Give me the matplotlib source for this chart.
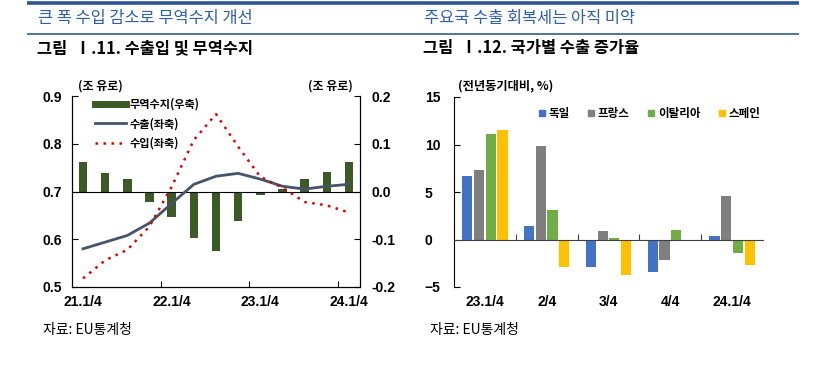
import matplotlib
matplotlib.use('Agg')
import matplotlib.pyplot as plt
import numpy as np
from matplotlib.lines import Line2D

#### Data ####################################################################
quarters = ['21.1/4', '', '', '', '22.1/4', '', '', '', '23.1/4', '', '', '', '24.1/4']
balance = [0.062, 0.039, 0.026, -0.023, -0.054, -0.097, -0.125, -0.062, -0.007, 0.005, 0.027, 0.041, 0.062]
exports = [0.580, 0.594, 0.608, 0.634, 0.675, 0.715, 0.732, 0.738, 0.726, 0.711, 0.705, 0.711, 0.715]
imports = [0.518, 0.556, 0.578, 0.627, 0.710, 0.808, 0.862, 0.794, 0.731, 0.708, 0.678, 0.671, 0.656]

groups = ['23.1/4', '2/4', '3/4', '4/4', '24.1/4']
countries = ['독일', '프랑스', '이탈리아', '스페인']
germany = [6.65, 1.37, -2.85, -3.38, 0.39]
france = [7.29, 9.82, 0.85, -2.11, 4.54]
italy = [11.09, 3.10, 0.20, 1.02, -1.44]
spain = [11.50, -2.85, -3.77, -0.18, -2.71]

#### Style ###################################################################
KR = ['Noto Sans CJK KR', 'DejaVu Sans']
NUM = ['Liberation Sans', 'Noto Sans CJK KR']
plt.rcParams['font.family'] = NUM
W, H = 818, 368
fig = plt.figure(figsize=(W / 100, H / 100), dpi=100)

def fx(px):
    return px / W

def fy(py):
    return 1 - py / H

# header lines / texts (pixel coords)
hdr = fig.add_axes([0, 0, 1, 1], facecolor='none')
hdr.set_xlim(0, W); hdr.set_ylim(H, 0); hdr.axis('off')
hdr.plot([27, 799], [3, 3], color='#2F5597', lw=2.6, solid_capstyle='butt')
hdr.plot([27, 799], [33.5, 33.5], color='#4F72B0', lw=1.4, solid_capstyle='butt')
hdr.text(38, 19, '큰 폭 수입 감소로 무역수지 개선', family=KR, fontsize=11.8, color='#2F5FA8', va='center')
hdr.text(424, 19, '주요국 수출 회복세는 아직 미약', family=KR, fontsize=11.8, color='#2F5FA8', va='center')
hdr.text(37, 48, '그림  Ⅰ.11. 수출입 및 무역수지', family=KR, fontsize=11.8, color='black', va='center', weight='bold')
hdr.text(423, 48, '그림  Ⅰ.12. 국가별 수출 증가율', family=KR, fontsize=11.8, color='black', va='center', weight='bold')
hdr.text(100, 86, '(조 유로)', family=KR, fontsize=8.6, weight='bold', ha='center', va='center')
hdr.text(330, 86, '(조 유로)', family=KR, fontsize=8.6, weight='bold', ha='center', va='center')
hdr.text(458, 86, '(전년동기대비, %)', family=KR, fontsize=8.8, weight='bold', ha='left', va='center')
hdr.text(43, 330, '자료: EU통계청', family=KR, fontsize=10, va='center')
hdr.text(430, 330, '자료: EU통계청', family=KR, fontsize=10, va='center')

#### Left chart ##############################################################
x = np.arange(len(quarters))
ax = fig.add_axes([fx(72), fy(287), fx(288), fy(96) - fy(287)])
ax2 = ax.twinx()
ax2.bar(x, balance, width=0.38, color='#3B5A26', zorder=2)
ax2.axhline(0, color='black', lw=0.8, zorder=3)
ax2.set_ylim(-0.2, 0.2)
ax2.set_yticks([-0.2, -0.1, 0.0, 0.1, 0.2])
ax2.set_yticklabels(['%.1f' % v for v in [-0.2, -0.1, 0.0, 0.1, 0.2]])
ax.plot(x, exports, color='#44546A', lw=2.0, zorder=4)
ax.plot(x, imports, color='#E00000', lw=1.8, ls=(0, (1, 2.2)), zorder=4)
ax.set_zorder(ax2.get_zorder() + 1); ax.patch.set_visible(False)
ax.set_ylim(0.5, 0.9)
ax.set_yticks([0.5, 0.6, 0.7, 0.8, 0.9])
ax.set_xlim(-0.5, len(quarters) - 0.5)
ax.set_xticks(x[::4])
ax.set_xticklabels([q for q in quarters if q])
ax.set_xticks([3.5, 7.5, 11.5], minor=True)
ax.tick_params(axis='x', which='major', length=0, pad=6)
ax.tick_params(axis='x', which='minor', direction='in', length=4, width=0.8)
ax.tick_params(axis='y', direction='in', length=4, width=0.8, pad=21)
ax2.tick_params(axis='y', direction='in', length=4, width=0.8, pad=8.5)
for a in (ax, ax2):
    a.spines['top'].set_visible(False)
    for s in a.spines.values():
        s.set_linewidth(0.8)
    for t in a.get_xticklabels() + a.get_yticklabels():
        t.set_fontweight('bold'); t.set_fontsize(10)
for t in ax.get_yticklabels():
    t.set_horizontalalignment('left')

handles = [Line2D([], [], color='#3B5A26', lw=5),
           Line2D([], [], color='#44546A', lw=2.0),
           Line2D([], [], color='#E00000', lw=1.8, ls=(0, (1, 2.2)))]
ax.legend(handles, ['무역수지(우축)', '수출(좌축)', '수입(좌축)'], loc='upper left',
          bbox_to_anchor=(0.045, 1.045), frameon=False, handlelength=2.8,
          handletextpad=0.35, labelspacing=0.6, prop={'family': KR, 'size': 8, 'weight': 'bold'})

#### Right chart #############################################################
g = np.arange(len(groups))
bx = fig.add_axes([fx(454), fy(287), fx(309), fy(97) - fy(287)])
colors = ['#4472C4', '#7F7F7F', '#70AD47', '#FFC000']
offs = [-0.285, -0.095, 0.095, 0.285]
for vals, c, o, name in zip([germany, france, italy, spain], colors, offs, countries):
    bx.bar(g + o, vals, width=0.165, color=c, label=name, zorder=2)
bx.set_ylim(-5, 15)
bx.set_yticks([-5, 0, 5, 10, 15])
bx.set_xlim(-0.5, len(groups) - 0.5)
bx.spines['top'].set_visible(False)
bx.spines['right'].set_visible(False)
bx.spines['bottom'].set_position(('data', 0))
bx.spines['bottom'].set_color('#404040')
for s in bx.spines.values():
    s.set_linewidth(0.8)
bx.set_xticks(g[:-1] + 0.5)
bx.set_xticklabels([])
bx.tick_params(axis='x', direction='in', length=4, width=0.8, color='#404040')
bx.tick_params(axis='y', direction='in', length=4, width=0.8, pad=21)
sec = bx.secondary_xaxis(0)
sec.set_xticks(g)
sec.set_xticklabels(groups)
sec.spines['bottom'].set_visible(False)
sec.tick_params(length=0, pad=6)
for t in sec.get_xticklabels() + bx.get_yticklabels():
    t.set_fontweight('bold'); t.set_fontsize(10)
for t in bx.get_yticklabels():
    t.set_horizontalalignment('left')

lh = [Line2D([], [], marker='s', ls='none', color=c, markersize=4.5) for c in colors]
bx.legend(lh, countries, loc='upper right', bbox_to_anchor=(1.025, 1.0), ncol=4, frameon=False,
          handletextpad=0.05, columnspacing=1.4, handlelength=1.0,
          prop={'family': KR, 'size': 8.3, 'weight': 'bold'})

fig.savefig('out.png', dpi=100)
